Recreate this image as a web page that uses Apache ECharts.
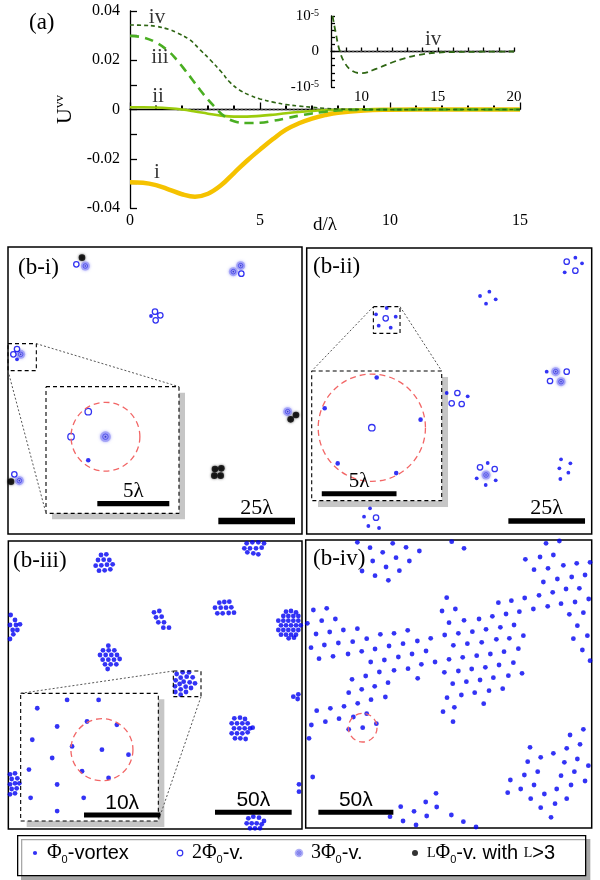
<!DOCTYPE html>
<html><head><meta charset="utf-8">
<script src="https://cdn.jsdelivr.net/npm/echarts@6/dist/echarts.min.js"></script>
<style>html,body{margin:0;padding:0;background:#fff}#c{width:600px;height:880px}</style>
</head><body><div id="c"></div>
<script>
// ================= DATA =================
// (a) interaction energy U^vv vs d/lambda
const curveI = [[0,-0.0295],[0.5,-0.0297],[1,-0.0307],[1.5,-0.0325],[2,-0.0344],[2.5,-0.0354],[3,-0.0342],[3.5,-0.0308],[4,-0.0258],[4.5,-0.0208],[5,-0.0163],[5.5,-0.0120],[6,-0.0082],[6.5,-0.0056],[7,-0.0037],[7.5,-0.0023],[8,-0.0013],[9,-0.0004],[10,-0.0001],[11,0],[15,0]];
const curveII = [[0,0.0009],[0.5,0.0009],[1,0.0008],[1.5,0.0005],[2,0.0],[2.5,-0.0008],[3,-0.0017],[3.5,-0.0025],[4,-0.0029],[4.5,-0.0029],[5,-0.0026],[5.5,-0.0021],[6,-0.0015],[6.5,-0.0010],[7,-0.0006],[7.5,-0.0003],[8,-0.0001],[9,0],[15,0]];
const curveIII = [[0,0.0299],[0.5,0.0293],[1,0.0272],[1.5,0.0235],[1.8,0.0201],[2.1,0.0162],[2.4,0.0121],[2.7,0.0079],[3.0,0.0040],[3.3,0.0006],[3.6,-0.0025],[4,-0.0048],[4.5,-0.0055],[5,-0.0054],[5.5,-0.0046],[6,-0.0036],[6.5,-0.0025],[7,-0.0016],[7.5,-0.0009],[8,-0.0004],[9,-0.0001],[10,0],[15,0]];
const curveIV = [[0,0.0343],[0.5,0.0342],[1,0.0338],[1.5,0.0325],[1.8,0.0312],[2.3,0.0283],[2.7,0.0242],[3.1,0.0200],[3.5,0.0154],[3.85,0.0110],[4.2,0.0080],[4.6,0.0058],[5,0.0043],[5.5,0.0030],[6,0.0020],[6.5,0.0014],[7,0.0009],[7.5,0.0005],[8,0.0002],[9,0],[10,-0.00004],[12,-0.00002],[15,0]];
const zeroRefA = [[1.8,0],[15,0]];
const curveLabelsA = [[1.04,-0.0254,'i'],[1.08,0.0051,'ii'],[1.15,0.0213,'iii'],[1.04,0.0372,'iv']];
// inset of (a): curve iv, values in units of 1e-5
const insetIVe5 = [[8.1,1.0],[8.3,0.55],[8.55,0.05],[8.9,-0.32],[9.4,-0.55],[10,-0.61],[11,-0.48],[12,-0.31],[12.6,-0.22],[13.7,-0.10],[15,-0.03],[17,-0.01],[20,0]];
const insetZero = [[8.6,0],[20,0]];
const insetLabel = [[14.7,0.34,'iv']];

// (b) vortex positions (panel units; y grows downward)
const biPhi1 = [[429,207],[27,337]];
const biPhi2 = [[205,52],[700,80],[441,194],[457,205],[443,220],[27,306],[16,322],[19,682]];
const biPhi3 = [[232,57],[676,74],[698,56],[38,322],[34,701],[839,494]];
const biPhiL = [[222,32],[9,704],[848,517],[864,504],[621,666],[640,664],[619,686],[638,686]];

const biiPhi1 = [[806,29],[826,46],[774,73],[520,144],[548,131],[538,167],[567,154],[240,180],[208,199],[267,206],[216,233],[252,239],[720,371],[420,435],[483,445],[543,645],[510,691],[567,697],[537,711],[763,634],[791,646],[758,661],[785,674],[761,693],[190,781],[172,806],[185,834],[217,840]];
const biiPhi2 = [[780,41],[806,68],[237,211],[780,371],[730,399],[452,435],[435,466],[465,468],[520,658],[564,663],[208,809]];
const biiPhi3 = [[747,371],[763,401],[538,681]];

const biiiPhi1 = [
 [278,42],[294,40],[269,57],[286,56],[303,57],[262,74],[279,73],[296,71],[313,70],[272,89],[289,88],[306,85],
 [715,7],[732,4],[750,4],[767,7],[708,22],[725,22],[743,22],[760,20],[717,34],[735,37],[750,40],
 [7,222],[20,237],[5,252],[23,252],[35,250],[13,267],[27,267],[15,280],[5,294],
 [437,214],[453,210],[443,229],[460,227],[450,244],[467,244],[465,260],[482,260],
 [633,185],[648,183],[663,182],[620,200],[637,200],[653,200],[669,199],[627,217],[643,217],[661,216],[677,215],
 [833,212],[848,210],[863,214],[825,225],[840,225],[855,225],[870,225],[810,239],[825,239],[840,239],[855,239],[870,239],
 [818,253],[833,253],[848,253],[863,253],[877,253],[810,267],[825,267],[840,267],[855,267],[870,267],[818,281],[833,281],[848,281],[863,281],[841,292],[857,290],
 [300,314],[284,328],[301,328],[318,328],[275,342],[292,342],[309,342],[326,342],[283,356],[300,356],[317,356],[334,354],[290,370],[307,370],[324,370],[298,384],
 [505,399],[523,394],[542,394],[517,410],[535,407],[553,409],[502,418],[526,422],[544,424],[560,427],[514,429],[500,436],[532,437],[548,441],[517,445],[501,453],[533,453],[517,461],
 [855,467],[870,460],[868,474],
 [678,532],[695,530],[710,534],[670,547],[686,547],[702,547],[718,547],[733,560],[677,562],[693,562],[709,562],[725,562],[670,577],[686,577],[702,577],[718,574],[680,592],[696,592],[712,594],
 [5,700],[20,697],[10,714],[27,712],[5,730],[20,727],[33,727],[10,744],[25,742],[5,760],[20,757],
 [872,730],[872,752],
 [720,832],[735,827],[752,830],[767,840],[715,847],[730,847],[745,847],[760,850],[725,862],[740,862],[755,862]
];

const bivPhi1 = [
 [155,7],[193,23],[231,37],[301,22],[341,33],[261,10],[201,63],[271,53],[311,63],[169,93],[241,81],[281,92],[208,107],[248,121],
 [438,5],[475,25],
 [721,10],[761,3],[659,58],[703,51],[743,45],[773,76],[813,70],[853,67],[685,89],[727,85],[755,117],[798,111],[838,105],[713,126],
 [781,147],[821,145],[849,177],[700,166],[741,157],[766,191],[808,186],[726,199],[683,207],[791,223],[833,218],[815,257],[845,287],[803,296],[830,330],[853,362],
 [423,173],[409,213],[449,207],[430,248],[475,241],[520,237],[560,229],[578,188],[617,182],[657,174],[641,215],[601,222],[584,262],[625,255],[500,275],[541,268],
 [417,285],[458,280],[375,295],[335,303],[306,271],[265,280],[224,283],[443,316],[485,311],[528,307],[572,298],[611,295],[653,287],[638,326],[595,335],[554,342],
 [513,347],[471,352],[430,358],[388,366],[361,333],[319,342],[278,351],[236,360],[195,366],[208,327],[168,334],[250,318],[292,311],[127,342],[82,349],[40,356],
 [16,323],[56,315],[98,309],[141,305],[183,296],[113,270],[155,266],[31,282],[72,276],[48,242],[89,237],[5,250],[23,210],[63,205],
 [416,397],[458,393],[498,387],[539,382],[580,375],[623,368],[649,400],[608,407],[563,413],[523,420],[482,425],[441,431],[424,473],[467,465],[507,458],[550,452],[591,446],
 [446,502],[412,515],[442,545],[534,491],
 [347,373],[307,386],[265,391],[221,396],[180,408],[139,418],[336,415],[247,428],[207,439],[168,448],[129,458],[239,471],[196,479],[156,490],[115,499],[74,505],[33,512],
 [143,531],[100,536],[59,545],[183,521],[17,555],[129,568],[171,563],[212,551],[10,595],[21,711],
 [833,568],[793,585],[823,613],[783,625],[743,640],[673,622],[705,652],[815,657],[776,667],[666,665],[848,677],[806,695],[766,707],[696,695],[656,705],
 [838,723],[796,735],[753,747],[685,735],[614,720],[645,747],[606,758],[716,762],[675,776],[783,776],[748,791],[705,803],[736,832],
 [391,760],[360,786],[285,800],[325,814],[393,801],[363,828],[253,830],[292,843],[437,825],[473,845],[331,855],[511,861]
];

// annotations: dashed circles [cx, cy, r] and scale bars [x0, y, length in lambda]
const biInsetCircle = [[38,322,22]];
const biiInsetCircle = [[237,211,33]];
const biiiInsetCircle = [[544,424,18.7]];
const bivCircle = [[171,563,43]];
const biBars = [[631,822,25]], biInsetBars = [[32.8,364.8,5]];
const biiBars = [[605,819,25]], biiInsetBars = [[206.2,251.7,5]];
const biiiBars = [[620,814,50]], biiiInsetBars = [[533.2,463.4,10]];
const bivBars = [[38,817,50]];

// legend entries
const legendKeys = ['phi1', 'phi2', 'phi3', 'phiL'];
const legendText = {
  phi1: '{p|Φ}{s|0}{t|-vortex}',
  phi2: '{p|2Φ}{s|0}{t|-v.}',
  phi3: '{p|3Φ}{s|0}{t|-v.}',
  phiL: '{c|L}{p|Φ}{s|0}{t|-v. with }{c|L}{t|>3}'
};

// ================= CHART =================
const SERIF = 'Liberation Serif', SANS = 'Liberation Sans';
const grids = [], xAxes = [], yAxes = [], series = [], titles = [];
function addGrid(g, xa, ya) {
  grids.push(g); const i = grids.length - 1;
  xAxes.push(Object.assign({gridIndex: i, type: 'value'}, xa));
  yAxes.push(Object.assign({gridIndex: i, type: 'value'}, ya));
  return i;
}
const blk = {color: '#000', width: 1.3};

// ---- (a) main ----
const gA = addGrid({left: 130, top: 11, width: 390, height: 197, show: false},
 {min: 0, max: 15, interval: 5, axisLine: {lineStyle: blk}, axisTick: {inside: true, length: 7, lineStyle: blk},
  minorTick: {show: true, splitNumber: 5, length: 4, lineStyle: {color: '#000', width: 2}}, splitLine: {show: false},
  axisLabel: {color: '#000', fontFamily: SERIF, fontSize: 16, margin: 5},
  name: 'd/λ', nameLocation: 'middle', nameGap: 8, nameMoveOverlap: false, nameTextStyle: {color: '#000', fontFamily: SERIF, fontSize: 19}},
 {min: -0.04, max: 0.04, interval: 0.02, axisLine: {lineStyle: blk}, axisTick: {inside: true, length: 7, lineStyle: blk},
  minorTick: {show: true, splitNumber: 2, length: 7, lineStyle: blk}, splitLine: {show: false},
  axisLabel: {color: '#000', fontFamily: SERIF, fontSize: 16, margin: 10, formatter: v => Math.abs(v) < 1e-9 ? '0' : v.toFixed(2)},
  name: '{u|U}{v|vv}', nameLocation: 'middle', nameGap: 53, nameRotate: 90, nameMoveOverlap: false,
  nameTextStyle: {rich: {u: {fontFamily: SERIF, fontSize: 22, color: '#000', lineHeight: 24}, v: {fontFamily: SERIF, fontSize: 13, color: '#000', verticalAlign: 'top', lineHeight: 14}}}});
const lineBase = (gi) => ({type: 'line', xAxisIndex: gi, yAxisIndex: gi, showSymbol: false, symbol: 'none', silent: true, animation: false});
series.push(Object.assign(lineBase(gA), {data: zeroRefA, lineStyle: {color: '#555', width: 1.5, type: [2, 2]}, z: 2}));
series.push(Object.assign(lineBase(gA), {data: curveI, smooth: 0.4, lineStyle: {color: '#f5c200', width: 4.5}, z: 3}));
series.push(Object.assign(lineBase(gA), {data: curveII, smooth: 0.4, lineStyle: {color: '#9ccc0c', width: 2.6}, z: 4}));
series.push(Object.assign(lineBase(gA), {data: curveIII, smooth: 0.4, lineStyle: {color: '#4aae22', width: 2.6, type: [9, 6]}, z: 5}));
series.push(Object.assign(lineBase(gA), {data: curveIV, smooth: 0.4, lineStyle: {color: '#2f6614', width: 1.6, type: [4, 3]}, z: 6}));
series.push({type: 'scatter', xAxisIndex: gA, yAxisIndex: gA, data: curveLabelsA, symbolSize: 0, silent: true, animation: false,
  label: {show: true, position: 'inside', formatter: p => p.value[2], color: '#000', fontFamily: SERIF, fontSize: 21}});

// ---- (a) inset ----
const gAi = addGrid({left: 331, top: 16, width: 183, height: 71, show: false},
 {min: 8, max: 20, interval: 1, axisLine: {lineStyle: blk}, axisTick: {inside: true, length: 4, lineStyle: blk}, splitLine: {show: false},
  axisLabel: {color: '#000', fontFamily: SERIF, fontSize: 15, margin: 3, formatter: v => (v % 5 === 0 ? String(v) : '')}},
 {min: -1, max: 1, interval: 0.2, axisLine: {lineStyle: blk}, axisTick: {inside: true, length: 4, lineStyle: blk}, splitLine: {show: false},
  axisLabel: {margin: 12, formatter: v => Math.abs(v - 1) < 1e-9 ? '{a|10}{b|-5}' : Math.abs(v + 1) < 1e-9 ? '{a|-10}{b|-5}' : Math.abs(v) < 1e-9 ? '{a|0}' : '',
   rich: {a: {fontFamily: SERIF, fontSize: 15, color: '#000', lineHeight: 16}, b: {fontFamily: SERIF, fontSize: 10, color: '#000', verticalAlign: 'top', lineHeight: 10}}}});
series.push(Object.assign(lineBase(gAi), {data: insetZero, lineStyle: {color: '#555', width: 1.5, type: [2, 2]}, z: 2}));
series.push(Object.assign(lineBase(gAi), {data: insetIVe5, smooth: 0.4, lineStyle: {color: '#2f6614', width: 1.8, type: [6, 4]}, z: 3}));
series.push({type: 'scatter', xAxisIndex: gAi, yAxisIndex: gAi, data: insetLabel, symbolSize: 0, silent: true, animation: false,
  label: {show: true, position: 'inside', formatter: p => p.value[2], color: '#000', fontFamily: SERIF, fontSize: 21}});
titles.push({text: '(a)', left: 29, top: 11, padding: 0, textStyle: {fontFamily: SERIF, fontSize: 23, fontWeight: 'normal', color: '#000'}});

// ---- (b) panels ----
function vortexSeries(gi, d, big, k) {
  const base = {type: 'scatter', xAxisIndex: gi, yAxisIndex: gi, clip: true, silent: true, animation: false};
  const out = [];
  if (d.p3) {
    out.push(Object.assign({}, base, {name: 'phi3', data: d.p3, symbolSize: 9 * k, itemStyle: {color: '#9a9af6', shadowBlur: 3, shadowColor: '#9a9af6'}, z: 3}));
    out.push(Object.assign({}, base, {name: 'phi3', data: d.p3, symbolSize: 4.6 * k, itemStyle: {color: 'rgba(0,0,0,0)', borderColor: '#3b3be6', borderWidth: 0.9}, z: 4}));
    out.push(Object.assign({}, base, {name: 'phi3', data: d.p3, symbolSize: 1.6 * k, itemStyle: {color: '#1f1fb8'}, z: 5}));
  }
  if (d.pL) out.push(Object.assign({}, base, {name: 'phiL', data: d.pL, symbolSize: 6.6, itemStyle: {color: '#000', shadowBlur: 2.5, shadowColor: 'rgba(0,0,0,0.8)'}, z: 3}));
  if (d.p2) out.push(Object.assign({}, base, {name: 'phi2', data: d.p2, symbolSize: 5.4 * k, itemStyle: {color: '#fff', borderColor: '#0000ee', borderWidth: 1.3}, z: 4}));
  if (d.p1) out.push(Object.assign({}, base, {name: 'phi1', data: d.p1, symbolSize: big ? 4.8 : 3.8 * k, itemStyle: {color: '#0000f2'}, z: 4}));
  return out;
}
function circleSeries(gi, data) {
  return {type: 'custom', xAxisIndex: gi, yAxisIndex: gi, data: data, silent: true, animation: false, z: 6,
    renderItem: (params, api) => {
      const c = api.coord([api.value(0), api.value(1)]);
      const r = api.size([api.value(2), 0])[0];
      return {type: 'circle', shape: {cx: c[0], cy: c[1], r: r}, style: {fill: null, stroke: '#f26666', lineWidth: 1.3, lineDash: [6, 4]}};
    }};
}
function barSeries(gi, data, upl, font, th, fs) {
  return {type: 'custom', xAxisIndex: gi, yAxisIndex: gi, data: data, silent: true, animation: false, z: 7,
    renderItem: (params, api) => {
      const x0 = api.value(0), y = api.value(1), len = api.value(2);
      const a = api.coord([x0, y]), b = api.coord([x0 + len * upl, y]);
      return {type: 'group', children: [
        {type: 'rect', shape: {x: a[0], y: a[1] - th / 2, width: b[0] - a[0], height: th}, style: {fill: '#000'}},
        {type: 'text', style: {text: len + 'λ', x: (a[0] + b[0]) / 2, y: a[1] - th / 2 + 1, align: 'center', verticalAlign: 'bottom',
          fontFamily: font, fontSize: fs, fill: '#000'}}
      ]};
    }};
}
function polySeries(gi, pts, style) {
  return Object.assign(lineBase(gi), {data: pts, lineStyle: style, z: 5});
}

const PANELS = [
 {label: '(b-i)', tl: [18, 256], left: 8, top: 247, width: 294, height: 287, upl: 9.2, big: false, font: SERIF, fs: 22, th: 6.5,
  data: {p1: biPhi1, p2: biPhi2, p3: biPhi3, pL: biPhiL}, bars: biBars,
  inset: {range: [0, 290, 85, 371], box: [114, 419, 513, 799], links: [[85, 290, 513, 419], [0, 371, 114, 799]], circle: biInsetCircle, bars: biInsetBars, th: 5.3, fs: 21}},
 {label: '(b-ii)', tl: [313, 255], left: 306.7, top: 248, width: 285, height: 286, upl: 9.2, big: false, font: SERIF, fs: 22, th: 5.5,
  data: {p1: biiPhi1, p2: biiPhi2, p3: biiPhi3}, bars: biiBars,
  inset: {range: [200, 176, 280, 256], box: [15, 369, 405, 758], links: [[200, 176, 15, 369], [280, 176, 405, 369]], circle: biiInsetCircle, bars: biiInsetBars, th: 5, fs: 21}},
 {label: '(b-iii)', tl: [13, 549], left: 8.33, top: 541, width: 293.67, height: 288, upl: 4.6, big: true, font: SANS, fs: 21, th: 5,
  data: {p1: biiiPhi1}, bars: biiiBars,
  inset: {range: [495, 390, 578, 467], box: [37, 457, 450, 840], links: [[495, 390, 37, 457], [578, 467, 450, 840]], circle: biiiInsetCircle, bars: biiiInsetBars, th: 5, fs: 21}},
 {label: '(b-iv)', tl: [313, 547], left: 305.7, top: 540, width: 286, height: 288, upl: 4.5, big: true, font: SANS, fs: 21, th: 5,
  data: {p1: bivPhi1}, bars: bivBars, circle: bivCircle}
];

PANELS.forEach(P => {
  const W = P.width * 3, H = P.height * 3;
  const gi = addGrid({left: P.left, top: P.top, width: P.width, height: P.height, show: true, borderColor: '#000', borderWidth: 1.5, backgroundColor: 'transparent'},
    {min: 0, max: W, show: false}, {min: 0, max: H, inverse: true, show: false});
  vortexSeries(gi, P.data, P.big, 1).forEach(s => series.push(s));
  series.push(barSeries(gi, P.bars, P.upl, P.font, P.th, P.fs));
  if (P.circle) series.push(circleSeries(gi, P.circle));
  titles.push({text: P.label, left: P.tl[0], top: P.tl[1], padding: 0, textStyle: {fontFamily: SERIF, fontSize: 23, fontWeight: 'normal', color: '#000'}});
  if (P.inset) {
    const I = P.inset, r = I.range, b = I.box;
    const dash = {color: '#000', width: 1.1, type: [4, 3]};
    series.push(polySeries(gi, [[r[0], r[1]], [r[2], r[1]], [r[2], r[3]], [r[0], r[3]], [r[0], r[1]]], dash));
    series.push(polySeries(gi, [[b[0], b[1]], [b[2], b[1]], [b[2], b[3]], [b[0], b[3]], [b[0], b[1]]], dash));
    I.links.forEach(l => series.push(polySeries(gi, [[l[0], l[1]], [l[2], l[3]]], {color: '#555', width: 1, type: [2, 2]})));
    const ii = addGrid({left: P.left + b[0] / 3, top: P.top + b[1] / 3, width: (b[2] - b[0]) / 3, height: (b[3] - b[1]) / 3,
        show: true, backgroundColor: '#fff', borderWidth: 0, shadowColor: '#c6c6c6', shadowOffsetX: 6, shadowOffsetY: 6, shadowBlur: 0.5},
      {min: r[0], max: r[2], show: false}, {min: r[1], max: r[3], inverse: true, show: false});
    vortexSeries(ii, P.data, P.big, 1.2).forEach(s => series.push(s));
    series.push(circleSeries(ii, I.circle));
    series.push(barSeries(ii, I.bars, P.upl, P.font, I.th, I.fs));
  }
});

// ---- legend ----
const svgIcon = s => 'image://data:image/svg+xml;charset=utf-8,' + encodeURIComponent('<svg xmlns="http://www.w3.org/2000/svg" width="14" height="14" viewBox="0 0 14 14">' + s + '</svg>');
const legendIcons = {
  phi1: svgIcon('<circle cx="7" cy="7" r="2.1" fill="#0000f2"/>'),
  phi2: svgIcon('<circle cx="7" cy="7" r="2.8" fill="#fff" stroke="#0000ee" stroke-width="1.2"/>'),
  phi3: svgIcon('<circle cx="7" cy="7" r="4.3" fill="#a0a0f6"/><circle cx="7" cy="7" r="2.1" fill="none" stroke="#3b3be6" stroke-width="0.8"/><circle cx="7" cy="7" r="0.8" fill="#1f1fb8"/>'),
  phiL: svgIcon('<circle cx="7" cy="7" r="3" fill="#000"/>')
};
const legendLeft = [28, 173, 292, 408];
const legendRich = {
  p: {fontFamily: SERIF, fontSize: 20, color: '#000', lineHeight: 24},
  s: {fontFamily: SANS, fontSize: 11, color: '#000', verticalAlign: 'bottom', lineHeight: 12},
  t: {fontFamily: SANS, fontSize: 20, color: '#000', lineHeight: 24},
  c: {fontFamily: SERIF, fontSize: 14, color: '#000', lineHeight: 24}
};
const legends = legendKeys.map((k, i) => ({
  left: legendLeft[i], top: 843, orient: 'horizontal', itemWidth: 14, itemHeight: 14, selectedMode: false, padding: 0,
  data: [{name: k, icon: legendIcons[k]}], formatter: n => legendText[n],
  textStyle: {color: '#000', rich: legendRich}
}));

const option = {
  animation: false,
  backgroundColor: '#fff',
  title: titles,
  grid: grids,
  xAxis: xAxes,
  yAxis: yAxes,
  legend: legends,
  graphic: [{type: 'rect', left: 17, top: 835, shape: {width: 568, height: 40}, z: 0, silent: true,
    style: {fill: '#fff', stroke: '#000', lineWidth: 1.3, shadowColor: '#a8a8a8', shadowOffsetX: 4, shadowOffsetY: 4, shadowBlur: 0.5}}],
  series: series
};
const chart = echarts.init(document.getElementById('c'), null, {renderer: 'canvas'});
chart.setOption(option);
</script>
</body></html>
